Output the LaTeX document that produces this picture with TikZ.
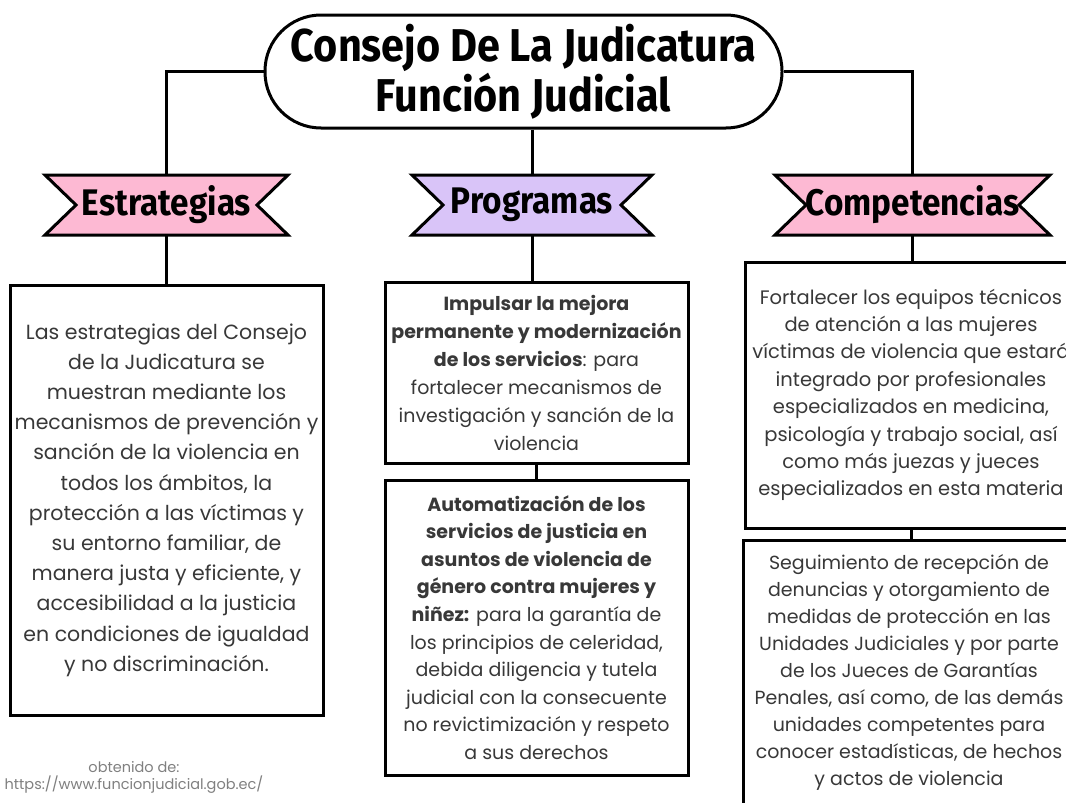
\documentclass[tikz,border=0pt]{standalone}
\usepackage{fontspec}
\setmainfont{Poppins}
\newfontfamily\headfont[FakeStretch=0.9]{Fira Sans}
\usetikzlibrary{positioning,calc}
\definecolor{ribbonpink}{HTML}{FDB9D3}
\definecolor{ribbonlila}{HTML}{D9C4F8}
\definecolor{bodygray}{HTML}{383838}
\tikzset{
    conn/.style={line width=3pt},
    textbox/.style={draw, line width=3pt, align=center, text=bodygray, inner sep=0pt},
    ribbon/.style={minimum height=60pt, font=\headfont\bfseries\fontsize{37}{37}\selectfont}
}

\begin{document}
\begin{tikzpicture}[x=1pt, y=-1pt]
    \clip (0, 0) rectangle (1066, 803);
    \fill[white] (0, 0) rectangle (1066, 803);
    \node[draw, line width=3pt, rounded corners=56pt, minimum width=517pt, minimum height=113pt, align=center,
          font=\headfont\bfseries\fontsize{46}{45}\selectfont] (title) at (523.5, 71.5)
          {Consejo De La Judicatura\\Función Judicial};
    \foreach \n/\x/\w/\c/\t in {estr/166.5/243/ribbonpink/Estrategias, prog/532/240/ribbonlila/Programas, comp/912.5/275/ribbonpink/Competencias} {
        \filldraw[fill=\c, line width=3pt] (\x-\w/2, 175) -- (\x+\w/2, 175) -- (\x+\w/2-31, 205) -- (\x+\w/2, 235)
            -- (\x-\w/2, 235) -- (\x-\w/2+31, 205) -- cycle;
        \node[ribbon] (\n) at (\x, 205) {\t};
    }
    \node[textbox, minimum width=313pt, minimum height=430pt, font=\fontsize{20.5}{30.2}\selectfont] (estrbox) at (166.5, 500)
        {Las estrategias del Consejo\\de la Judicatura se\\muestran mediante los\\mecanismos de prevención y\\sanción de la violencia en\\todos los ámbitos, la\\protección a las víctimas y\\su entorno familiar, de\\manera justa y eficiente, y\\accesibilidad a la justicia\\en condiciones de igualdad\\y no discriminación.};
    \node[textbox, minimum width=303pt, minimum height=181pt, font=\fontsize{19}{28}\selectfont] (progA) at (536.5, 372.5)
        {\textbf{Impulsar la mejora}\\\textbf{permanente y modernización}\\\textbf{de los servicios}: para\\fortalecer mecanismos de\\investigación y sanción de la\\violencia};
    \node[textbox, minimum width=303pt, minimum height=295pt, font=\fontsize{19}{27.6}\selectfont] (progB) at (536.5, 627.5)
        {\textbf{Automatización de los}\\\textbf{servicios de justicia en}\\\textbf{asuntos de violencia de}\\\textbf{género contra mujeres y}\\\textbf{niñez:} para la garantía de\\los principios de celeridad,\\debida diligencia y tutela\\judicial con la consecuente\\no revictimización y respeto\\a sus derechos};
    \node[textbox, minimum width=332pt, minimum height=266pt, font=\fontsize{19.5}{27.4}\selectfont] (compA) at (911, 395)
        {Fortalecer los equipos técnicos\\de atención a las mujeres\\víctimas de violencia que estará\\integrado por profesionales\\especializados en medicina,\\psicología y trabajo social, así\\como más juezas y jueces\\especializados en esta materia};
    \node[textbox, minimum width=332pt, minimum height=265pt, font=\fontsize{19}{26.9}\selectfont] (compB) at (909, 672.5)
        {Seguimiento de recepción de\\denuncias y otorgamiento de\\medidas de protección en las\\Unidades Judiciales y por parte\\de los Jueces de Garantías\\Penales, así como, de las demás\\unidades competentes para\\conocer estadísticas, de hechos\\y actos de violencia};
    \node[align=center, text=gray, font=\fontsize{14.5}{17}\selectfont] (src) at (134, 777)
        {obtenido de:\\https://www.funcionjudicial.gob.ec/};
    \draw[conn] (title.west) -| (estr.north);
    \draw[conn] (title.east) -| (comp.north);
    \draw[conn] (prog.north |- title.south) -- (prog.north);
    \draw[conn] (estr.south) -- (estrbox.north);
    \draw[conn] (prog.south) -- (prog.south |- progA.north);
    \draw[conn] (progA.south) -- (progB.north);
    \draw[conn] (comp.south) -- (comp.south |- compA.north);
    \draw[conn] (compA.south) -- (compA.south |- compB.north);
\end{tikzpicture}
\end{document}
